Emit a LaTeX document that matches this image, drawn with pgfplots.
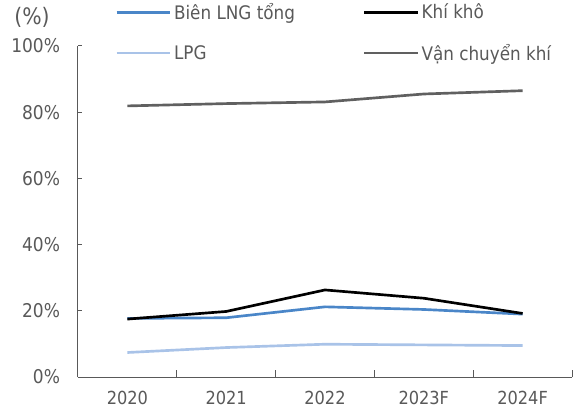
\documentclass[border=0pt]{standalone}
\usepackage{pgfplots}
\pgfplotsset{compat=1.18}
\usepackage{fontspec}
\setmainfont{DejaVu Sans Condensed}
\definecolor{txt}{HTML}{595959}
\definecolor{lng}{HTML}{4A86C8}
\definecolor{lpg}{HTML}{A9C3E8}
\definecolor{vc}{HTML}{606060}
\begin{document}
\begin{tikzpicture}[x=1pt,y=1pt]
\useasboundingbox (-58.5,-24.75) rectangle (372,282.75);
\begin{axis}[
  at={(0,0)}, anchor=south west,
  scale only axis, width=370.5pt, height=248.25pt,
  xmin=0.5, xmax=5.5, ymin=0, ymax=100,
  axis x line*=bottom, axis y line*=left,
  axis line style={color=txt, line width=0.75pt},
  xtick={1,...,5}, xticklabels={2020,2021,2022,2023F,2024F},
  major x tick style={draw=none},
  minor xtick={0.5,1.5,...,5.5},
  ytick={0,20,...,100}, yticklabels={0\%,20\%,40\%,60\%,80\%,100\%},
  tick align=inside,
  major tick length=3pt, minor tick length=5pt,
  tick style={color=txt, line width=0.75pt},
  tick label style={font=\fontsize{13.5}{13.5}\selectfont, color=txt},
  yticklabel style={xshift=-10pt, font=\fontsize{14.2}{14.2}\selectfont},
  xticklabel style={yshift=-7pt},
  legend style={draw=none, fill=none, at={(axis description cs:0.067,1.146)}, anchor=north west,
    font=\fontsize{14}{14}\selectfont, text=txt, row sep=13pt,
    /tikz/every even column/.append style={column sep=49pt}},
  legend columns=2, legend cell align=left,
  legend image code/.code={\draw[#1] (0pt,0pt) -- (40pt,0pt);},
  every axis plot/.append style={line width=2pt, mark=none},
  clip=false,
]
\addplot[color=lng] coordinates {(1,17.7) (2,17.9) (3,21.2) (4,20.4) (5,19.0)};
\addlegendentry{Biên LNG tổng}
\addplot[color=black] coordinates {(1,17.5) (2,19.8) (3,26.3) (4,23.8) (5,19.2)};
\addlegendentry{Khí khô}
\addplot[color=lpg] coordinates {(1,7.4) (2,8.9) (3,9.9) (4,9.7) (5,9.5)};
\addlegendentry{LPG}
\addplot[color=vc] coordinates {(1,81.9) (2,82.6) (3,83.1) (4,85.5) (5,86.5)};
\addlegendentry{Vận chuyển khí}
\node[font=\fontsize{17}{17}\selectfont, color=txt] at (axis description cs:-0.093,1.085) {(\%)};
\end{axis}
\end{tikzpicture}
\end{document}
